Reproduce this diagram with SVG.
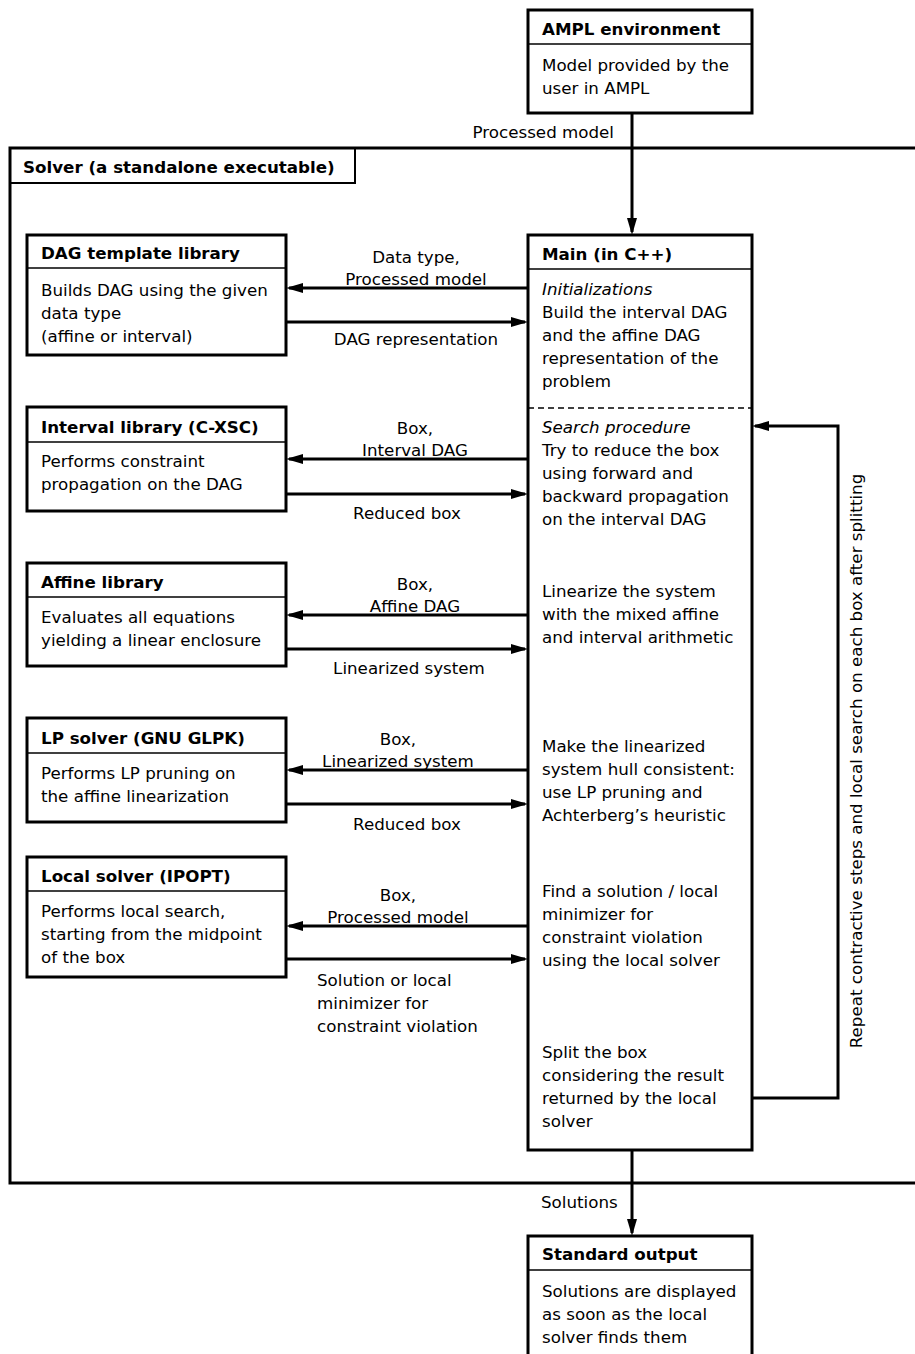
<svg xmlns="http://www.w3.org/2000/svg" width="915" height="1354" viewBox="0 0 915 1354">
<style>
text{font-family:"DejaVu Sans",Verdana,sans-serif;font-size:16.7px;fill:#000}
.t{font-weight:bold}
.i{font-style:italic}
.m{text-anchor:middle}
.e{text-anchor:end}
.box{fill:#fff;stroke:#000;stroke-width:3}
.sep{stroke:#000;stroke-width:1.5;fill:none}
.ln{stroke:#000;stroke-width:3;fill:none;marker-end:url(#ah)}
.pl{stroke:#000;stroke-width:3;fill:none}
</style>
<defs>
<marker id="ah" markerUnits="userSpaceOnUse" viewBox="0 0 17 10" refX="14" refY="5" markerWidth="17" markerHeight="10" orient="auto">
<path d="M0,0 L17,5 L0,10 z" fill="#000"/>
</marker>
</defs>
<rect width="915" height="1354" fill="#fff"/>

<g id="solver-frame">
<rect x="10" y="148" width="930" height="1035" fill="none" stroke="#000" stroke-width="3"/>
<path class="sep" d="M10,183 H355 V148" style="stroke-width:2"/>
<text class="t" x="23" y="173">Solver (a standalone executable)</text>
</g>

<g id="connectors">
<line class="ln" x1="632" y1="113" x2="632" y2="232"/>
<text class="e" x="614" y="138">Processed model</text>
<line class="ln" x1="528" y1="288" x2="289" y2="288"/>
<line class="ln" x1="286" y1="322" x2="525" y2="322"/>
<text class="m" x="416" y="263">Data type,</text>
<text class="m" x="416" y="285">Processed model</text>
<text class="m" x="416" y="345">DAG representation</text>
<line class="ln" x1="528" y1="459" x2="289" y2="459"/>
<line class="ln" x1="286" y1="494" x2="525" y2="494"/>
<text class="m" x="415" y="434">Box,</text>
<text class="m" x="415" y="456">Interval DAG</text>
<text class="m" x="407" y="519">Reduced box</text>
<line class="ln" x1="528" y1="615" x2="289" y2="615"/>
<line class="ln" x1="286" y1="649" x2="525" y2="649"/>
<text class="m" x="415" y="590">Box,</text>
<text class="m" x="415" y="612">Affine DAG</text>
<text class="m" x="409" y="674">Linearized system</text>
<line class="ln" x1="528" y1="770" x2="289" y2="770"/>
<line class="ln" x1="286" y1="804" x2="525" y2="804"/>
<text class="m" x="398" y="745">Box,</text>
<text class="m" x="398" y="767">Linearized system</text>
<text class="m" x="407" y="830">Reduced box</text>
<line class="ln" x1="528" y1="926" x2="289" y2="926"/>
<line class="ln" x1="286" y1="959" x2="525" y2="959"/>
<text class="m" x="398" y="901">Box,</text>
<text class="m" x="398" y="923">Processed model</text>
<text x="317" y="986">Solution or local</text>
<text x="317" y="1009">minimizer for</text>
<text x="317" y="1032">constraint violation</text>
<polyline class="ln" points="752,1098 838,1098 838,426 755,426"/>
<text transform="translate(862,761) rotate(-90)" class="m">Repeat contractive steps and local search on each box after splitting</text>
<line class="ln" x1="632" y1="1150" x2="632" y2="1233"/>
<text x="541" y="1208">Solutions</text>
</g>

<g id="ampl">
<rect class="box" x="528" y="10" width="224" height="103"/>
<line class="sep" x1="528" y1="44" x2="752" y2="44"/>
<text class="t" x="542" y="35">AMPL environment</text>
<text x="542" y="71">Model provided by the</text>
<text x="542" y="94">user in AMPL</text>
</g>

<g id="main">
<rect class="box" x="528" y="235" width="224" height="915"/>
<line class="sep" x1="528" y1="269" x2="752" y2="269"/>
<line class="sep" x1="528" y1="408" x2="752" y2="408" stroke-dasharray="6,4"/>
<text class="t" x="542" y="260">Main (in C++)</text>
<text class="i" x="542" y="295">Initializations</text>
<text x="542" y="318">Build the interval DAG</text>
<text x="542" y="341">and the affine DAG</text>
<text x="542" y="364">representation of the</text>
<text x="542" y="387">problem</text>
<text class="i" x="542" y="433">Search procedure</text>
<text x="542" y="456">Try to reduce the box</text>
<text x="542" y="479">using forward and</text>
<text x="542" y="502">backward propagation</text>
<text x="542" y="525">on the interval DAG</text>
<text x="542" y="597">Linearize the system</text>
<text x="542" y="620">with the mixed affine</text>
<text x="542" y="643">and interval arithmetic</text>
<text x="542" y="752">Make the linearized</text>
<text x="542" y="775">system hull consistent:</text>
<text x="542" y="798">use LP pruning and</text>
<text x="542" y="821">Achterberg’s heuristic</text>
<text x="542" y="897">Find a solution / local</text>
<text x="542" y="920">minimizer for</text>
<text x="542" y="943">constraint violation</text>
<text x="542" y="966">using the local solver</text>
<text x="542" y="1058">Split the box</text>
<text x="542" y="1081">considering the result</text>
<text x="542" y="1104">returned by the local</text>
<text x="542" y="1127">solver</text>
</g>

<g id="dag">
<rect class="box" x="27" y="235" width="259" height="120"/>
<line class="sep" x1="27" y1="268" x2="286" y2="268"/>
<text class="t" x="41" y="259">DAG template library</text>
<text x="41" y="296">Builds DAG using the given</text>
<text x="41" y="319">data type</text>
<text x="41" y="342">(affine or interval)</text>
</g>

<g id="interval">
<rect class="box" x="27" y="407" width="259" height="104"/>
<line class="sep" x1="27" y1="442" x2="286" y2="442"/>
<text class="t" x="41" y="433">Interval library (C-XSC)</text>
<text x="41" y="467">Performs constraint</text>
<text x="41" y="490">propagation on the DAG</text>
</g>

<g id="affine">
<rect class="box" x="27" y="563" width="259" height="103"/>
<line class="sep" x1="27" y1="597" x2="286" y2="597"/>
<text class="t" x="41" y="588">Affine library</text>
<text x="41" y="623">Evaluates all equations</text>
<text x="41" y="646">yielding a linear enclosure</text>
</g>

<g id="lp">
<rect class="box" x="27" y="718" width="259" height="104"/>
<line class="sep" x1="27" y1="753" x2="286" y2="753"/>
<text class="t" x="41" y="744">LP solver (GNU GLPK)</text>
<text x="41" y="779">Performs LP pruning on</text>
<text x="41" y="802">the affine linearization</text>
</g>

<g id="local">
<rect class="box" x="27" y="857" width="259" height="120"/>
<line class="sep" x1="27" y1="891" x2="286" y2="891"/>
<text class="t" x="41" y="882">Local solver (IPOPT)</text>
<text x="41" y="917">Performs local search,</text>
<text x="41" y="940">starting from the midpoint</text>
<text x="41" y="963">of the box</text>
</g>

<g id="stdout">
<rect class="box" x="528" y="1236" width="224" height="140"/>
<line class="sep" x1="528" y1="1270" x2="752" y2="1270"/>
<text class="t" x="542" y="1260">Standard output</text>
<text x="542" y="1297">Solutions are displayed</text>
<text x="542" y="1320">as soon as the local</text>
<text x="542" y="1343">solver finds them</text>
</g>
</svg>
